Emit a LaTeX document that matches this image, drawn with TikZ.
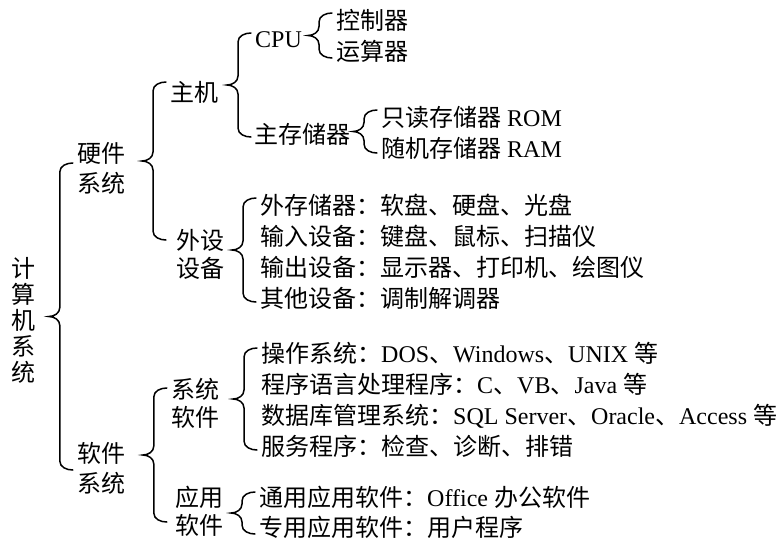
\documentclass[tikz,border=0pt]{standalone}
\usepackage{fontspec}
\setmainfont{Noto Sans CJK SC}
\newfontfamily\en{Liberation Serif}
\usetikzlibrary{calc}

% left brace running from child #1 down to child #2, tip pointing back to the parent
\newcommand{\kuo}[4]{%
  \draw[kuoxian] let \p1=($(#1.west)+(-4pt,#3)$), \p2=($(#1.west |- #2.west)+(-4pt,#4)$),
        \n1={0.5*(\y1+\y2)} in
    (\p1) to[out=180,in=90] (\x1-13pt,\y1-9pt) -- (\x1-13pt,\n1+9pt)
    to[out=-90,in=0] (\x1-24pt,\n1) to[out=0,in=90] (\x1-13pt,\n1-9pt)
    -- (\x1-13pt,\y2+9pt) to[out=-90,in=180] (\p2);}

\begin{document}
\begin{tikzpicture}[x=1pt,y=-1pt]
       \tikzstyle{every node}=[inner sep=0pt,font=\fontsize{24}{30}\selectfont]
       \tikzstyle{ye}=[anchor=west,text height=20pt,text depth=2pt]
       \tikzstyle{zu}=[align=center]
       \tikzstyle{kuoxian}=[line width=1.5pt,line cap=round]

       \useasboundingbox (0,0) rectangle (777,542);

       \node[zu,font=\fontsize{24}{26}\selectfont] (comp) at (24,320) {计\\算\\机\\系\\统};

       \node[zu]                           (hw)  at (101,168) {硬件\\系统};
       \node[zu]                           (sw)  at (101,468) {软件\\系统};

       \node[ye]                           (host)   at (170,92)  {主机};
       \node[zu,font=\fontsize{24}{28}\selectfont] (periph) at (200,254) {外设\\设备};
       \node[zu,font=\fontsize{24}{28}\selectfont] (syssw)  at (195,403) {系统\\软件};
       \node[zu,font=\fontsize{24}{28}\selectfont] (appsw)  at (199,511) {应用\\软件};

       \node[ye]                           (cpu)  at (255,38)  {\en CPU};
       \node[ye]                           (mem)  at (254,134) {主存储器};

       \node[ye]                           (ctrl) at (336,20)  {控制器};
       \node[ye]                           (alu)  at (336,51)  {运算器};
       \node[ye]                           (rom)  at (381,117) {只读存储器{\en\ ROM}};
       \node[ye]                           (ram)  at (381,148) {随机存储器{\en\ RAM}};

       \node[ye]                           (ext)  at (260,205) {外存储器：软盘、硬盘、光盘};
       \node[ye]                           (inp)  at (260,236) {输入设备：键盘、鼠标、扫描仪};
       \node[ye]                           (outp) at (260,267) {输出设备：显示器、打印机、绘图仪};
       \node[ye]                           (oth)  at (260,298) {其他设备：调制解调器};

       \node[ye]                           (os)   at (261,353) {操作系统：{\en DOS}、{\en Windows}、{\en UNIX }等};
       \node[ye]                           (lang) at (261,384) {程序语言处理程序：{\en C}、{\en VB}、{\en Java }等};
       \node[ye]                           (db)   at (261,415) {数据库管理系统：{\en SQL Server}、{\en Oracle}、{\en Access }等};
       \node[ye]                           (svc)  at (261,446) {服务程序：检查、诊断、排错};

       \node[ye]                           (gen)  at (259,497) {通用应用软件：{\en Office }办公软件};
       \node[ye]                           (usr)  at (259,527) {专用应用软件：用户程序};

       % braces, first child to last child
       \kuo{hw}{sw}{5pt}{-2pt}
       \kuo{host}{periph}{10pt}{14pt}
       \kuo{cpu}{mem}{5pt}{-3pt}
       \kuo{ctrl}{alu}{7pt}{-7pt}
       \kuo{rom}{ram}{7pt}{-5pt}
       \kuo{ext}{oth}{7pt}{-4pt}
       \kuo{syssw}{appsw}{15pt}{-11pt}
       \kuo{os}{svc}{5pt}{-4pt}
       \kuo{gen}{usr}{5pt}{-7pt}
\end{tikzpicture}
\end{document}
